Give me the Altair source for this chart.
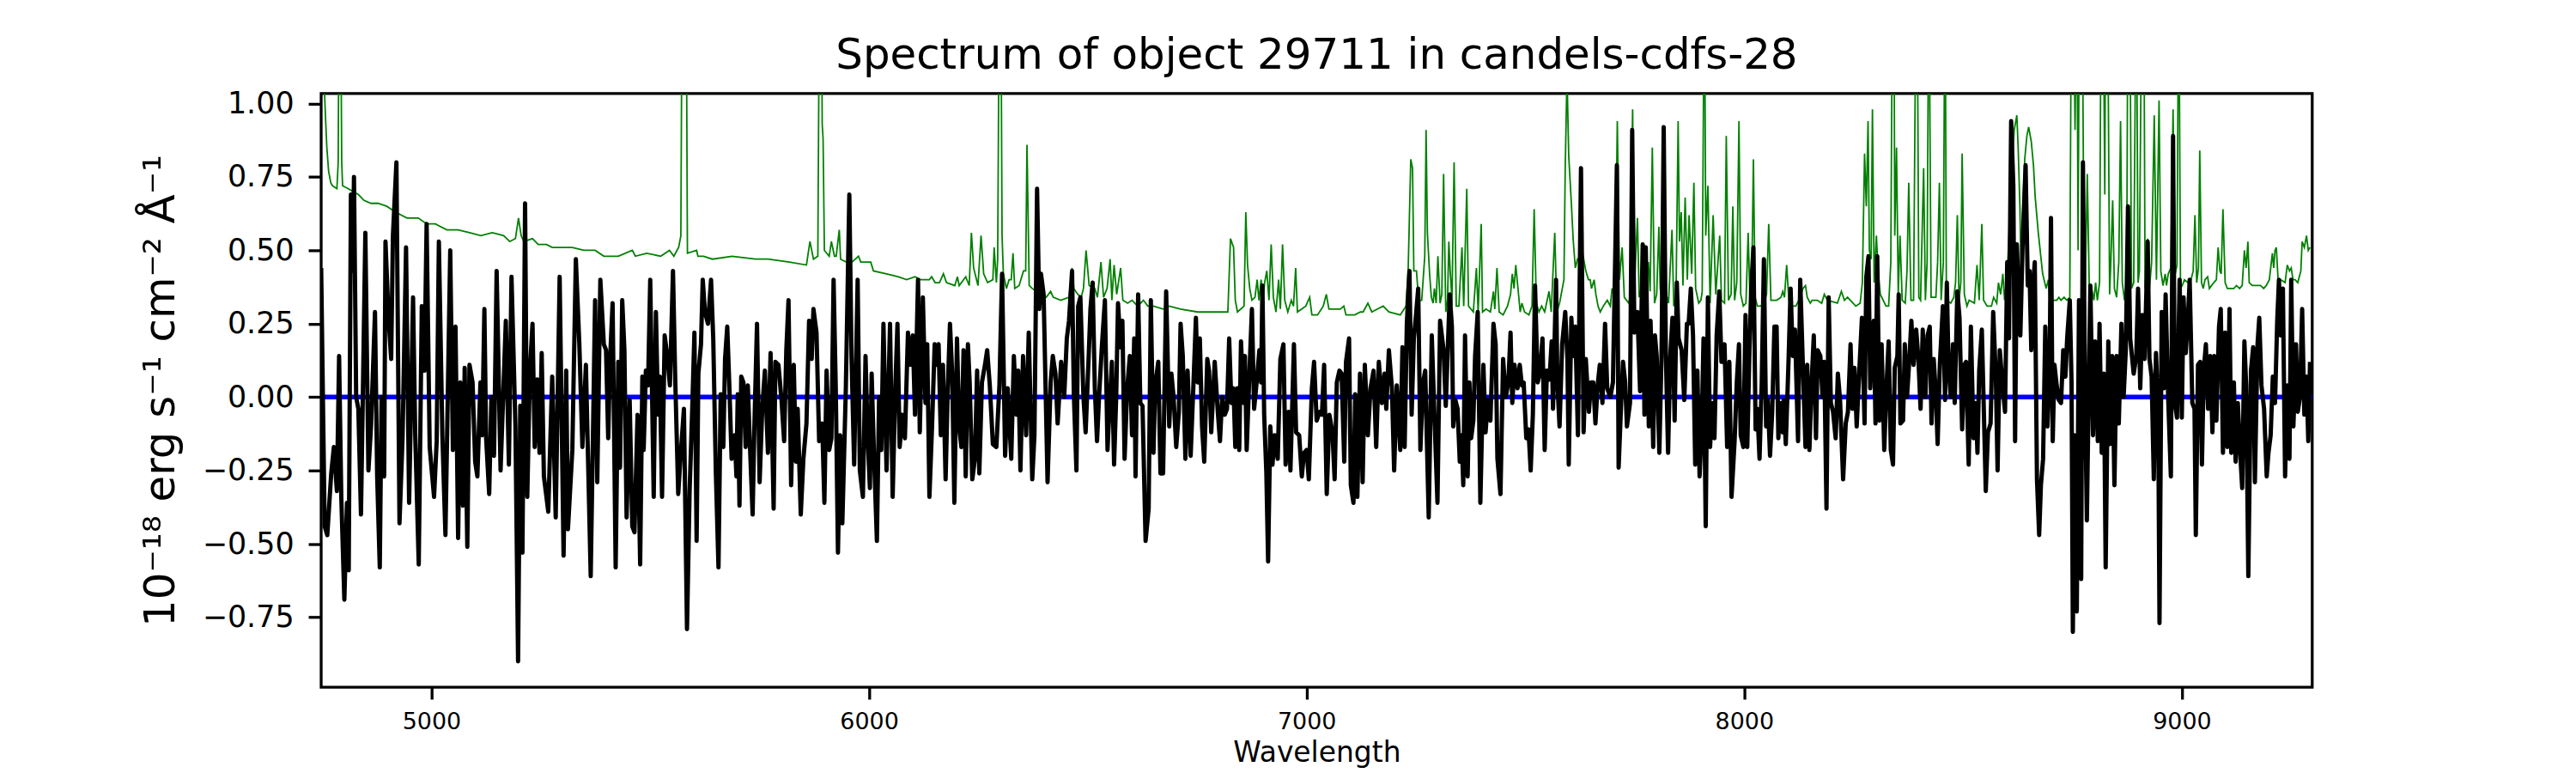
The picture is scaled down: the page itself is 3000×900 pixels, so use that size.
import altair as alt
import pandas as pd

# ---- observed flux (black), wavelength [A], flux [1e-18 erg/s/cm2/A] ----
flux_seg1 = [[4748,0.44],[4756,-0.44],[4762,-0.47],[4771,-0.26],[4777,-0.17],[4784,-0.32],[4789,0.14],[4794,-0.34],[4801,-0.69],[4807,-0.36],[4811,-0.59],[4816,0.69],[4820,0.43],[4823,0.75],[4828,0.0],[4833,-0.04],[4839,-0.40],[4849,0.56],[4856,-0.25],[4862,-0.10],[4871,0.29],[4876,-0.27],[4882,-0.58],[4886,0.0],[4892,-0.27],[4895,0.53],[4902,0.27],[4908,0.13],[4912,0.55],[4920,0.80],[4927,-0.43],[4934,-0.14],[4942,0.51],[4949,-0.36],[4958,0.34],[4963,-0.13],[4971,-0.57],[4978,0.31],[4984,0.09],[4989,0.59],[4996,-0.17],[5006,-0.34],[5012,-0.15],[5017,0.53],[5025,-0.13],[5032,-0.47],[5043,0.50],[5049,-0.18],[5055,0.24],[5061,-0.48],[5066,0.05],[5072,-0.37],[5076,0.10],[5082,-0.51],[5087,0.11],[5094,0.05],[5100,-0.22],[5105,-0.27],[5112,0.05],[5116,-0.13],[5121,0.30],[5125,-0.14],[5132,-0.33],[5137,0.0],[5143,-0.20],[5149,0.43],[5158,-0.25],[5170,0.26],[5177,-0.23],[5183,0.41],[5192,-0.10],[5198,-0.90],[5203,-0.03],[5208,-0.53],[5214,0.66],[5219,-0.34],[5225,0.09],[5231,0.25],[5236,-0.17],[5242,0.06],[5247,-0.19],[5252,0.15],[5257,-0.27],[5267,-0.39],[5276,0.07],[5284,-0.41],[5293,0.41],[5302,-0.54],[5308,0.09],[5312,-0.45],[5322,-0.18],[5330,0.47],[5338,0.18],[5345,-0.17],[5353,0.11],[5364,-0.61],[5374,0.33],[5379,-0.29],[5386,0.40]]
flux_seg2 = [[5394,0.18],[5399,0.16],[5404,-0.14],[5408,0.12],[5414,0.32],[5421,-0.58],[5427,0.12],[5431,-0.24],[5436,0.33],[5441,0.16],[5446,-0.41],[5453,-0.01],[5459,-0.44],[5464,-0.46],[5471,-0.06],[5477,-0.57],[5482,0.07],[5485,-0.18],[5490,0.09],[5495,0.04],[5500,0.40],[5508,-0.34],[5513,0.29],[5518,-0.06],[5522,0.07],[5527,-0.34],[5533,0.21],[5539,0.14],[5545,0.04],[5552,0.43],[5557,0.07],[5564,-0.33],[5569,-0.21],[5577,-0.04],[5584,-0.79],[5590,-0.32],[5596,-0.04],[5601,0.22],[5606,-0.49],[5610,0.08],[5616,0.18],[5620,0.40],[5625,0.29],[5632,0.25],[5639,0.40],[5644,0.20],[5650,-0.26],[5656,-0.58],[5661,0.01],[5667,-0.17],[5671,0.13],[5676,0.24],[5681,0.03],[5686,-0.21],[5693,-0.13],[5697,-0.27],[5700,0.01],[5704,-0.37],[5708,0.07],[5713,0.05],[5718,-0.17],[5723,0.04],[5728,-0.17],[5734,-0.40],[5738,-0.10],[5744,0.25],[5750,-0.29],[5756,-0.04],[5762,0.09],[5769,-0.19],[5775,0.15],[5782,-0.38],[5786,0.12],[5793,0.11],[5800,-0.01],[5806,-0.15],[5811,0.16],[5816,0.33],[5822,-0.30],[5828,0.11],[5833,-0.22],[5837,-0.04],[5844,-0.40],[5850,-0.21],[5857,-0.09],[5863,0.26],[5869,0.13],[5873,0.30],[5880,0.22],[5886,-0.15],[5893,-0.09],[5898,-0.36],[5903,0.09],[5909,-0.18],[5914,-0.14],[5919,0.40],[5924,0.03],[5929,-0.53],[5934,-0.13],[5939,-0.43],[5947,0.03],[5955,0.69],[5960,0.14],[5966,-0.23],[5974,0.40],[5979,-0.25],[5986,-0.34],[5992,0.14],[5997,-0.14],[6002,-0.31],[6006,0.08],[6011,-0.18],[6018,-0.49],[6023,0.00],[6028,-0.18],[6033,0.25]]
flux_seg3 = [[6040,-0.25],[6048,0.25],[6054,-0.34],[6060,0.03],[6065,0.25],[6070,-0.17],[6076,-0.06],[6082,-0.14],[6089,0.22],[6095,0.11],[6100,0.21],[6105,-0.06],[6112,0.40],[6116,-0.12],[6123,0.34],[6129,-0.02],[6133,0.18],[6138,-0.34],[6144,-0.10],[6150,0.18],[6154,0.11],[6159,0.18],[6164,-0.13],[6169,0.11],[6175,-0.28],[6180,0.03],[6185,0.25],[6190,0.08],[6195,-0.36],[6201,0.20],[6206,-0.10],[6211,-0.17],[6216,0.16],[6221,-0.27],[6226,0.18],[6230,0.05],[6236,-0.28],[6242,-0.21],[6247,0.09],[6252,-0.26],[6258,0.05],[6265,0.11],[6270,0.16],[6276,0.04],[6283,-0.16],[6291,-0.17],[6298,0.04],[6304,0.42],[6311,-0.20],[6317,0.03],[6325,-0.21],[6331,0.14],[6337,-0.06],[6341,0.09],[6346,-0.25],[6352,0.14],[6359,-0.13],[6365,0.22],[6373,-0.28],[6378,-0.13],[6384,0.71],[6389,0.30],[6393,0.42],[6399,0.35],[6408,-0.29],[6415,0.05],[6420,0.14],[6426,0.08],[6431,-0.09],[6439,0.12],[6446,0.00],[6452,0.20],[6457,0.26],[6464,0.43],[6468,0.01],[6474,-0.25],[6478,0.31],[6483,0.34],[6490,0.00],[6495,-0.12],[6502,0.14],[6506,0.30],[6511,0.39],[6516,0.03],[6521,-0.15],[6526,0.01],[6532,0.17],[6539,0.33],[6545,-0.18],[6550,-0.02],[6555,0.12],[6560,-0.23],[6565,0.01],[6569,0.32],[6575,0.17],[6579,0.26],[6584,-0.21],[6590,0.03],[6596,0.14],[6601,-0.13],[6606,0.20],[6609,-0.27],[6615,0.35],[6620,-0.02],[6625,-0.03],[6632,-0.49],[6639,-0.38],[6644,0.33],[6650,-0.19],[6654,0.04],[6661,0.12],[6666,-0.26],[6672,-0.26],[6679,0.36]]
flux_seg4 = [[6686,-0.10],[6691,0.08],[6696,0.00],[6702,-0.17],[6708,-0.05],[6712,0.25],[6717,0.14],[6723,-0.21],[6728,0.09],[6735,-0.20],[6741,0.03],[6747,0.27],[6751,0.05],[6756,0.20],[6761,-0.10],[6766,-0.22],[6773,0.13],[6777,0.09],[6782,-0.12],[6790,0.12],[6797,-0.05],[6802,-0.15],[6807,0.00],[6813,-0.06],[6818,-0.04],[6823,0.20],[6828,-0.02],[6833,0.03],[6837,-0.17],[6842,0.03],[6846,-0.18],[6850,0.19],[6856,-0.02],[6859,0.14],[6863,-0.18],[6870,0.11],[6875,0.30],[6880,-0.04],[6887,0.07],[6892,0.16],[6896,0.05],[6899,0.38],[6903,-0.06],[6908,-0.26],[6912,-0.56],[6917,-0.10],[6922,-0.23],[6927,-0.13],[6934,-0.21],[6940,0.13],[6947,0.18],[6952,-0.23],[6959,-0.05],[6963,-0.25],[6971,0.18],[6976,-0.12],[6983,-0.13],[6989,-0.27],[6994,-0.19],[7000,-0.18],[7005,-0.28],[7012,0.03],[7017,0.12],[7023,-0.08],[7030,-0.05],[7035,-0.06],[7040,0.11],[7046,-0.33],[7052,-0.06],[7059,-0.12],[7064,-0.28],[7069,0.05],[7075,0.09],[7080,0.08],[7086,-0.22],[7090,0.12],[7097,0.20],[7101,-0.30],[7107,-0.36],[7111,0.01],[7116,-0.34],[7122,0.08],[7128,-0.29],[7133,0.11],[7140,-0.13],[7146,0.03],[7153,0.09],[7159,-0.17],[7165,0.12],[7172,-0.02],[7178,0.08],[7182,-0.04],[7188,0.16],[7195,0.03],[7200,-0.25],[7206,0.04],[7214,-0.18],[7219,0.17],[7224,-0.17],[7229,0.25],[7235,0.43],[7240,-0.06],[7245,0.20],[7250,0.28],[7255,0.37],[7260,-0.18],[7266,0.05],[7271,0.09],[7279,-0.41],[7286,0.21],[7292,-0.06],[7299,-0.36],[7305,0.26],[7313,0.16],[7318,-0.03],[7327,0.35]]
flux_seg5 = [[7332,0.24],[7335,-0.10],[7340,-0.01],[7345,-0.04],[7350,-0.22],[7354,-0.13],[7358,-0.30],[7362,0.21],[7368,-0.27],[7372,0.05],[7376,-0.14],[7381,-0.08],[7385,0.14],[7391,0.29],[7397,-0.36],[7404,0.11],[7409,-0.12],[7414,-0.01],[7420,-0.08],[7427,0.25],[7432,0.18],[7436,-0.21],[7443,-0.33],[7449,0.13],[7455,0.00],[7461,0.05],[7466,0.22],[7470,-0.02],[7475,0.11],[7482,0.03],[7487,0.11],[7492,0.04],[7496,0.05],[7502,-0.14],[7507,-0.11],[7512,-0.25],[7517,-0.06],[7522,0.38],[7528,0.05],[7533,0.08],[7539,0.20],[7544,-0.18],[7549,0.09],[7555,0.06],[7560,0.19],[7563,-0.04],[7570,0.40],[7573,0.05],[7578,-0.10],[7584,0.18],[7591,0.29],[7596,0.13],[7599,-0.23],[7605,0.27],[7609,0.14],[7614,0.24],[7620,-0.13],[7627,0.78],[7633,-0.12],[7638,0.13],[7645,-0.05],[7650,0.05],[7655,0.05],[7660,-0.09],[7665,0.04],[7670,0.11],[7676,-0.02],[7682,0.25],[7687,0.03],[7694,0.00],[7700,0.05],[7709,0.79],[7713,-0.24],[7718,-0.05],[7723,0.12],[7728,0.05],[7732,-0.10],[7739,-0.02],[7744,0.91],[7749,0.22],[7756,0.29],[7762,0.02],[7768,0.52],[7772,-0.06],[7775,0.51],[7782,-0.10],[7786,0.26],[7792,-0.17],[7796,0.21],[7800,0.14],[7806,-0.19],[7811,0.14],[7816,0.92],[7821,0.14],[7826,-0.19],[7831,0.14],[7836,0.27],[7841,-0.08],[7846,0.39],[7850,0.20],[7857,0.16],[7863,-0.01],[7869,0.25],[7873,0.25],[7878,0.37],[7883,0.21],[7888,-0.23],[7893,0.09],[7898,-0.27],[7903,-0.10],[7907,0.20],[7912,-0.44],[7917,0.34],[7922,-0.17],[7927,-0.02],[7932,-0.14],[7937,0.21],[7943,0.36],[7948,0.12],[7955,0.18],[7961,-0.17],[7966,0.12],[7971,-0.34]]
flux_seg6 = [[7978,-0.15],[7983,0.05],[7988,0.18],[7992,-0.13],[7998,-0.17],[8003,0.28],[8007,-0.17],[8012,0.16],[8016,0.37],[8021,0.51],[8026,-0.11],[8030,-0.04],[8035,-0.21],[8040,0.05],[8045,0.47],[8050,-0.10],[8054,-0.01],[8059,-0.20],[8064,-0.05],[8069,0.24],[8074,0.24],[8078,-0.14],[8082,-0.02],[8088,-0.12],[8090,-0.01],[8095,-0.16],[8101,0.11],[8106,0.37],[8111,0.14],[8116,0.23],[8123,-0.15],[8128,0.40],[8134,0.11],[8140,-0.17],[8144,0.11],[8149,-0.18],[8154,0.05],[8159,0.21],[8164,-0.14],[8168,0.16],[8174,0.14],[8179,0.00],[8183,0.12],[8188,-0.38],[8193,0.34],[8198,-0.02],[8203,-0.05],[8209,-0.14],[8214,0.08],[8219,-0.01],[8226,-0.28],[8232,-0.09],[8237,-0.05],[8243,0.18],[8247,-0.04],[8252,0.10],[8257,-0.10],[8263,0.09],[8269,0.27],[8275,-0.09],[8279,0.41],[8284,0.48],[8288,0.03],[8292,0.20],[8296,0.26],[8300,-0.09],[8304,0.48],[8309,-0.08],[8314,0.18],[8320,-0.18],[8325,0.03],[8330,0.19],[8335,-0.18],[8340,-0.23],[8344,0.10],[8350,0.14],[8353,0.35],[8357,-0.09],[8363,-0.08],[8367,0.18],[8372,0.00],[8377,0.12],[8382,0.26],[8387,0.11],[8393,0.23],[8398,0.13],[8403,-0.04],[8408,0.23],[8414,0.00],[8419,0.21],[8424,0.24],[8428,-0.09],[8433,0.13],[8438,0.01],[8442,-0.16],[8447,0.11],[8454,0.31],[8459,-0.01],[8463,0.39],[8467,0.10],[8472,0.00],[8477,0.18],[8481,-0.02],[8487,0.36],[8492,0.27],[8498,-0.11],[8503,0.11],[8507,0.12],[8513,-0.23],[8518,0.24],[8524,-0.14],[8529,-0.02],[8533,-0.19],[8537,0.09],[8543,0.23],[8547,-0.01],[8552,-0.32],[8557,-0.12],[8563,-0.09],[8569,0.29],[8575,0.07],[8579,-0.25],[8584,0.16],[8591,0.03],[8596,-0.05],[8601,0.46],[8605,0.20],[8610,0.94],[8615,0.72],[8619,-0.15],[8623,0.52]]
flux_seg7 = [[8631,0.21],[8636,0.51],[8643,0.79],[8648,0.38],[8652,0.43],[8656,0.16],[8660,0.38],[8664,0.46],[8669,-0.28],[8674,-0.47],[8678,-0.30],[8683,-0.21],[8688,0.24],[8693,-0.10],[8698,0.11],[8701,0.61],[8705,-0.15],[8709,0.11],[8714,0.04],[8719,-0.01],[8724,-0.02],[8729,0.16],[8734,0.07],[8738,0.20],[8744,0.33],[8748,0.05],[8751,-0.80],[8755,-0.13],[8760,-0.73],[8765,0.33],[8770,-0.62],[8774,0.80],[8779,0.00],[8783,-0.42],[8787,0.00],[8791,0.38],[8797,-0.13],[8802,0.19],[8808,-0.15],[8812,0.25],[8817,-0.19],[8822,0.08],[8826,-0.58],[8832,0.19],[8836,-0.16],[8841,0.14],[8846,-0.30],[8851,0.14],[8856,-0.09],[8862,0.25],[8867,0.00],[8872,0.16],[8877,0.65],[8882,0.20],[8890,0.08],[8896,0.14],[8900,0.37],[8905,0.03],[8910,0.28],[8915,0.13],[8922,0.53],[8926,0.13],[8931,0.07],[8936,-0.28],[8941,0.15],[8946,-0.04],[8949,-0.77],[8954,0.29],[8959,0.03],[8963,0.35],[8969,-0.01],[8975,-0.27],[8980,0.89],[8984,-0.02],[8989,-0.07],[8995,0.40],[9000,-0.07],[9004,0.34],[9009,0.15],[9014,0.27],[9018,0.40],[9024,-0.02],[9029,-0.04],[9032,-0.47],[9037,0.11],[9042,0.12],[9046,-0.23],[9050,0.09],[9055,0.18],[9060,-0.04],[9065,0.14],[9070,-0.12],[9074,0.14],[9079,-0.08],[9085,0.24],[9089,0.30],[9094,-0.19],[9099,0.22],[9104,-0.17],[9109,0.30],[9113,-0.19],[9119,0.05],[9123,-0.22],[9128,-0.02],[9133,-0.18],[9138,-0.31],[9143,0.19],[9147,0.04],[9152,-0.61],[9158,0.09],[9163,0.17],[9167,-0.29],[9173,0.18],[9177,0.27],[9182,0.04],[9188,-0.04],[9194,-0.27],[9198,-0.19],[9203,-0.13],[9208,0.07],[9213,-0.02],[9218,0.26],[9222,0.40],[9226,0.21],[9231,0.37],[9236,-0.27],[9241,0.04],[9246,-0.21],[9250,0.40],[9255,-0.10],[9261,0.18],[9265,-0.05],[9270,0.00],[9275,0.30],[9280,-0.06],[9285,0.07],[9289,-0.15],[9293,0.12]]

# ---- flux uncertainty (green) ----
err_seg1 = [[4748,1.5],[4754,1.1],[4758,0.95],[4761,0.85],[4765,0.77],[4770,0.73],[4774,0.72],[4784,0.71],[4787,0.80],[4789,1.5],[4792,1.5],[4795,0.80],[4797,0.72],[4810,0.71],[4833,0.69],[4846,0.67],[4862,0.66],[4878,0.66],[4898,0.65],[4918,0.63],[4944,0.61],[4970,0.61],[4989,0.59],[5009,0.59],[5035,0.57],[5061,0.57],[5087,0.56],[5113,0.55],[5139,0.56],[5165,0.55],[5179,0.53],[5192,0.54],[5199,0.61],[5205,0.55],[5211,0.53],[5231,0.54],[5244,0.52],[5263,0.52],[5276,0.51],[5296,0.51],[5322,0.51],[5348,0.50],[5374,0.50]]
err_seg2 = [[5394,0.48],[5427,0.48],[5459,0.50],[5466,0.48],[5492,0.49],[5524,0.48],[5544,0.50],[5554,0.48],[5565,0.51],[5570,0.55],[5573,1.5],[5582,1.5],[5585,0.49],[5606,0.50],[5609,0.48],[5622,0.48],[5642,0.47],[5687,0.48],[5740,0.47],[5769,0.47],[5818,0.46],[5857,0.45],[5865,0.53],[5873,0.47],[5883,0.48],[5887,1.5],[5891,1.5],[5893,0.93],[5895,0.88],[5898,0.50],[5909,0.48],[5914,0.53],[5921,0.48],[5925,0.48],[5932,0.57],[5935,0.47],[5948,0.46],[5961,0.46],[5976,0.48],[5981,0.46],[6004,0.46],[6010,0.43]]
err_seg3 = [[6040,0.42],[6066,0.41],[6086,0.40],[6105,0.41],[6118,0.40],[6138,0.40],[6143,0.41],[6151,0.39],[6161,0.39],[6170,0.42],[6177,0.39],[6196,0.38],[6202,0.41],[6206,0.38],[6221,0.41],[6229,0.38],[6234,0.56],[6239,0.44],[6249,0.38],[6256,0.55],[6262,0.42],[6271,0.39],[6283,0.40],[6286,0.51],[6291,0.39],[6294,0.47],[6298,1.5],[6301,1.5],[6304,0.55],[6307,0.42],[6314,0.37],[6320,0.40],[6325,0.40],[6329,0.49],[6333,0.37],[6343,0.38],[6353,0.43],[6358,0.43],[6361,0.86],[6366,0.38],[6373,0.37],[6392,0.35],[6405,0.34],[6415,0.36],[6421,0.34],[6438,0.33],[6457,0.34],[6464,0.44],[6468,0.37],[6477,0.35],[6485,0.34],[6490,0.37],[6496,0.50],[6503,0.38],[6516,0.37],[6522,0.34],[6530,0.46],[6536,0.34],[6544,0.37],[6551,0.47],[6555,0.33],[6560,0.45],[6566,0.35],[6575,0.44],[6580,0.33],[6591,0.32],[6601,0.33],[6614,0.31],[6627,0.33],[6637,0.31],[6650,0.31],[6672,0.30]]
err_seg4 = [[6686,0.31],[6712,0.30],[6751,0.29],[6784,0.29],[6820,0.29],[6826,0.54],[6833,0.51],[6837,0.33],[6842,0.29],[6857,0.31],[6861,0.63],[6865,0.45],[6870,0.37],[6875,0.33],[6882,0.34],[6887,0.40],[6891,0.33],[6896,0.40],[6900,0.33],[6904,0.39],[6909,0.43],[6914,0.33],[6919,0.52],[6924,0.34],[6930,0.29],[6936,0.40],[6940,0.30],[6945,0.52],[6950,0.33],[6957,0.29],[6965,0.33],[6970,0.31],[6975,0.44],[6979,0.29],[6998,0.31],[7007,0.34],[7012,0.28],[7025,0.28],[7038,0.31],[7045,0.35],[7051,0.30],[7077,0.30],[7085,0.31],[7090,0.28],[7110,0.28],[7123,0.29],[7129,0.29],[7140,0.32],[7149,0.29],[7162,0.30],[7175,0.31],[7188,0.29],[7214,0.28],[7227,0.31],[7232,0.43],[7238,0.81],[7242,0.78],[7245,0.43],[7251,0.43],[7256,0.33],[7263,0.33],[7270,0.48],[7273,0.91],[7276,0.56],[7281,0.42],[7285,0.34],[7289,0.32],[7292,0.37],[7296,0.32],[7300,0.48],[7305,0.32],[7309,0.35],[7313,0.76],[7318,0.29],[7322,0.33],[7325,0.53],[7328,0.43],[7331,0.36]]
err_seg5 = [[7332,0.31],[7337,0.80],[7342,0.31],[7348,0.31],[7355,0.51],[7359,0.31],[7366,0.71],[7370,0.31],[7381,0.29],[7388,0.44],[7392,0.29],[7399,0.59],[7402,0.29],[7410,0.30],[7420,0.29],[7427,0.36],[7430,0.30],[7435,0.44],[7440,0.29],[7449,0.28],[7459,0.31],[7466,0.35],[7470,0.42],[7474,0.37],[7478,0.45],[7483,0.37],[7488,0.29],[7492,0.32],[7498,0.29],[7508,0.28],[7515,0.31],[7520,0.64],[7525,0.32],[7531,0.29],[7537,0.31],[7544,0.29],[7554,0.36],[7559,0.29],[7567,0.56],[7572,0.29],[7578,0.32],[7588,0.40],[7591,0.78],[7595,1.1],[7599,0.82],[7605,0.66],[7609,0.54],[7614,0.44],[7619,0.47],[7625,0.46],[7632,0.48],[7638,0.43],[7644,0.40],[7648,0.40],[7651,0.37],[7657,0.40],[7661,0.35],[7666,0.31],[7671,0.29],[7678,0.31],[7687,0.33],[7694,0.31],[7698,0.37],[7705,0.34],[7710,0.94],[7715,0.40],[7721,0.51],[7726,0.34],[7736,0.32],[7739,0.34],[7745,0.98],[7749,0.37],[7756,0.61],[7760,0.34],[7766,0.38],[7771,0.52],[7775,0.35],[7781,0.46],[7785,0.36],[7790,0.85],[7795,0.32],[7800,0.35],[7805,0.58],[7808,0.37],[7814,0.31],[7822,0.35],[7827,0.32],[7835,0.57],[7839,0.31],[7844,0.33],[7849,0.94],[7852,0.53],[7856,0.63],[7860,0.38],[7865,0.68],[7870,0.40],[7874,0.62],[7880,0.42],[7885,0.73],[7889,0.37],[7896,0.32],[7901,0.33],[7904,0.36],[7909,1.5],[7912,0.55],[7917,0.72],[7922,0.32],[7929,0.62],[7935,0.35],[7944,0.55],[7948,0.33],[7955,0.32],[7959,0.89],[7964,0.33],[7970,0.35],[7974,0.65]]
err_seg6 = [[7978,0.33],[7983,0.39],[7988,0.94],[7992,0.35],[7998,0.31],[8004,0.32],[8009,0.56],[8013,0.34],[8017,0.37],[8021,0.81],[8025,0.34],[8030,0.31],[8037,0.31],[8046,0.32],[8051,0.35],[8056,0.59],[8061,0.33],[8074,0.33],[8084,0.34],[8088,0.36],[8092,0.34],[8097,0.45],[8102,0.33],[8108,0.31],[8118,0.31],[8128,0.34],[8134,0.37],[8140,0.38],[8144,0.34],[8151,0.32],[8155,0.33],[8167,0.33],[8177,0.32],[8183,0.35],[8190,0.33],[8213,0.32],[8222,0.36],[8229,0.33],[8236,0.34],[8255,0.31],[8265,0.32],[8270,0.39],[8275,0.83],[8279,0.65],[8283,0.94],[8286,0.50],[8290,0.47],[8293,0.98],[8297,0.39],[8302,0.55],[8306,0.43],[8311,0.35],[8324,0.31],[8330,0.31],[8335,0.46],[8339,1.5],[8342,1.5],[8344,0.55],[8348,0.85],[8352,0.35],[8356,0.55],[8361,0.33],[8368,0.32],[8372,0.43],[8376,0.73],[8381,0.33],[8387,0.33],[8393,1.5],[8395,1.5],[8399,0.34],[8403,0.33],[8410,0.78],[8414,0.33],[8418,0.46],[8422,1.5],[8427,0.34],[8438,0.34],[8442,0.46],[8446,0.73],[8450,0.33],[8455,0.46],[8459,1.5],[8462,0.33],[8472,0.32],[8479,0.34],[8483,0.39],[8487,0.62],[8491,0.33],[8495,0.39],[8498,0.83],[8503,0.35],[8509,0.31],[8514,0.33],[8526,0.32],[8532,0.45],[8537,0.33],[8543,0.59],[8547,0.33],[8555,0.31],[8565,0.31],[8570,0.34],[8577,0.32],[8581,0.39],[8586,0.35],[8591,0.42],[8595,0.33],[8601,0.42],[8605,0.55],[8610,0.72],[8617,0.91],[8623,0.96]]
err_seg7 = [[8626,0.85],[8630,0.65],[8633,0.39],[8636,0.61],[8641,0.81],[8646,0.89],[8650,0.92],[8656,0.87],[8661,0.79],[8665,0.68],[8672,0.56],[8682,0.42],[8690,0.37],[8695,0.40],[8698,0.33],[8704,0.33],[8714,0.33],[8719,0.34],[8724,0.33],[8731,0.34],[8737,0.33],[8744,0.34],[8748,1.5],[8752,1.5],[8756,0.91],[8760,1.5],[8763,0.50],[8766,1.5],[8772,1.5],[8776,0.57],[8779,0.34],[8784,0.76],[8789,0.33],[8794,0.37],[8799,0.33],[8803,0.39],[8807,0.33],[8812,0.39],[8816,1.5],[8820,1.5],[8824,0.69],[8826,1.5],[8830,1.5],[8835,0.35],[8838,0.47],[8842,0.67],[8846,0.37],[8851,0.34],[8856,0.46],[8860,0.94],[8864,0.39],[8869,0.33],[8874,0.39],[8877,1.5],[8881,1.5],[8885,0.37],[8890,0.39],[8896,1.5],[8900,0.39],[8903,0.43],[8909,1.5],[8913,1.5],[8916,0.37],[8922,0.54],[8926,0.37],[8931,0.46],[8937,0.96],[8942,0.40],[8948,1.01],[8952,0.43],[8957,0.38],[8962,0.42],[8965,0.38],[8969,0.42],[8975,0.44],[8980,0.98],[8985,0.42],[8989,0.45],[8993,1.5],[8997,0.37],[9001,0.38],[9006,0.40],[9014,0.39],[9021,0.40],[9026,0.43],[9030,0.62],[9034,0.39],[9038,0.44],[9041,0.84],[9045,0.39],[9049,0.37],[9053,0.40],[9059,0.41],[9063,0.37],[9073,0.39],[9079,0.40],[9083,0.51],[9087,0.43],[9090,0.42],[9094,0.64],[9099,0.39],[9104,0.37],[9119,0.37],[9125,0.38],[9132,0.37],[9138,0.38],[9143,0.50],[9147,0.44],[9151,0.53],[9154,0.39],[9161,0.38],[9171,0.38],[9180,0.38],[9187,0.37],[9193,0.38],[9200,0.40],[9207,0.49],[9210,0.44],[9213,0.50],[9216,0.51],[9220,0.40],[9226,0.40],[9236,0.39],[9241,0.45],[9246,0.43],[9250,0.44],[9254,0.40],[9259,0.40],[9265,0.39],[9272,0.43],[9275,0.53],[9280,0.51],[9285,0.55],[9289,0.50],[9293,0.51]]

# ---- model (blue) ----
model_wave = [4748, 9298]
model_flux = [0.0, 0.0]

x_ticks = [5000, 6000, 7000, 8000, 9000]
y_ticks = [-0.75, -0.5, -0.25, 0.0, 0.25, 0.5, 0.75, 1.0]
x_domain = [4748, 9298]
y_domain = [-0.988, 1.034]

TITLE = "Spectrum of object 29711 in candels-cdfs-28"
YTITLE = "10\u207b\u00b9\u2078 erg s\u207b\u00b9 cm\u207b\u00b2 \u00c5\u207b\u00b9"


def frame(segs):
    rows = [p for s in segs for p in s]
    return pd.DataFrame(rows, columns=["wave", "value"])


flux_df = frame([flux_seg1, flux_seg2, flux_seg3, flux_seg4, flux_seg5, flux_seg6, flux_seg7])
err_df = frame([err_seg1, err_seg2, err_seg3, err_seg4, err_seg5, err_seg6, err_seg7])
model_df = pd.DataFrame({"wave": model_wave, "value": model_flux})

W, H = 2325, 693

x_enc = alt.X(
    "wave:Q",
    scale=alt.Scale(domain=x_domain, nice=False, zero=False),
    axis=alt.Axis(values=x_ticks, format="d", title="Wavelength",
                  labelFontSize=27, labelPadding=14, tickSize=14,
                  titleFontSize=33, titleX=W / 2, titleY=87,
                  titleBaseline="alphabetic", titleAlign="center"),
)
y_enc = alt.Y(
    "value:Q",
    scale=alt.Scale(domain=y_domain, nice=False, zero=False),
    axis=alt.Axis(values=y_ticks, format=".2f", title=YTITLE,
                  labelFontSize=35, labelPadding=17, tickSize=15,
                  titleFontSize=50, titleAngle=270, titleX=-172, titleY=H / 2,
                  titleBaseline="alphabetic", titleAlign="center"),
)

err_line = alt.Chart(err_df).mark_line(color="#008000", strokeWidth=1.8, clip=True).encode(x=x_enc, y=y_enc)
model_line = alt.Chart(model_df).mark_line(color="#0000ff", strokeWidth=5.5, clip=True).encode(x=x_enc, y=y_enc)
flux_line = alt.Chart(flux_df).mark_line(color="#000000", strokeWidth=5, strokeJoin="round", clip=True).encode(x=x_enc, y=y_enc)

chart = (
    alt.layer(err_line, model_line, flux_line)
    .properties(
        width=W,
        height=H,
        title=alt.TitleParams(TITLE, fontSize=50, font="DejaVu Sans", fontWeight="normal",
                              color="black", anchor="middle", offset=14),
        padding={"left": 367, "top": 100, "right": 300, "bottom": 99},
        autosize=alt.AutoSizeParams(type="none"),
    )
    .configure(font="DejaVu Sans")
    .configure_view(stroke="black", strokeWidth=3.3)
    .configure_axis(domain=False, grid=False, tickColor="black", tickWidth=3.3,
                    labelColor="black", titleColor="black", labelFont="DejaVu Sans",
                    titleFont="DejaVu Sans", titleFontWeight="normal")
)

chart.save("out.html", embed_options={"renderer": "svg", "actions": False})
